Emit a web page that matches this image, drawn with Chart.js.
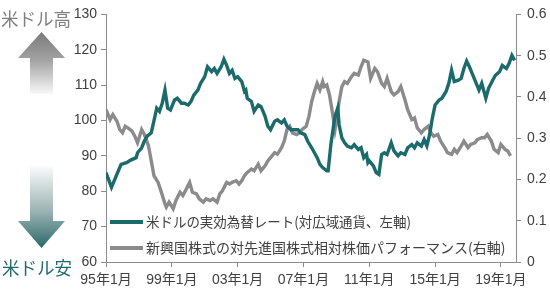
<!DOCTYPE html>
<html>
<head>
<meta charset="utf-8">
<script src="https://cdn.jsdelivr.net/npm/chart.js@4.4.1/dist/chart.umd.min.js"></script>
<style>
html,body{margin:0;padding:0;background:#fff;}
#wrap{position:relative;width:550px;height:295px;}
</style>
</head>
<body>
<div id="wrap"><canvas id="c"></canvas></div>
<script>
// ---- data ----
const xTickLabels = ['95年1月','99年1月','03年1月','07年1月','11年1月','15年1月','19年1月'];
const seriesLabels = ['米ドルの実効為替レート(対広域通貨、左軸)','新興国株式の対先進国株式相対株価パフォーマンス(右軸)'];
const leftTicks = [60, 130, 10];
const rightTicks = [0, 0.6, 0.1];

const usdDates = ['1995-01','1995-05','1995-08','1995-12','1996-04','1996-07','1996-11','1996-12','1997-03','1997-05','1997-07','1997-10','1997-12',
'1998-02','1998-04','1998-06','1998-08','1998-10','1998-12','1999-03','1999-05','1999-08','1999-10','2000-01','2000-03','2000-05','2000-08','2000-10',
'2001-01','2001-03','2001-06','2001-08','2001-10','2002-01','2002-03','2002-05','2002-07','2002-09','2002-11','2003-01','2003-04','2003-06','2003-07',
'2003-08','2003-11','2004-01','2004-04','2004-06','2004-09','2004-11','2005-01','2005-04','2005-06','2005-09','2005-11','2006-01','2006-04','2006-06',
'2006-09','2006-11','2007-02','2007-04','2007-07','2007-09','2007-11','2008-01','2008-03','2008-06','2008-07','2008-09','2008-12','2009-02','2009-03',
'2009-05','2009-07','2009-09','2009-12','2010-02','2010-05','2010-07','2010-09','2010-11','2010-12','2011-01','2011-04','2011-06','2011-08','2011-10',
'2011-12','2012-02','2012-05','2012-07','2012-10','2012-12','2013-03','2013-05','2013-08','2013-10','2013-12','2014-03','2014-05','2014-07','2014-09',
'2014-11','2015-01','2015-04','2015-06','2015-09','2015-11','2016-01','2016-03','2016-06','2016-08','2016-10','2016-12','2017-02','2017-04','2017-07',
'2017-09','2017-11','2018-02','2018-04','2018-07','2018-09','2018-12','2019-02','2019-05','2019-07','2019-09','2019-11'];
const usdValues = [85.3,81.1,83.9,87.6,88.1,88.8,89.5,90.9,92.3,94.2,95.6,96.5,100.0,
103.5,102.6,104.9,108.6,103.5,103.0,105.8,106.3,104.9,104.9,104.4,105.4,107.2,108.6,110.5,
112.4,115.2,113.8,114.7,113.3,115.2,117.3,115.6,113.3,114.2,111.9,112.4,111.0,108.2,108.6,
106.3,105.4,102.6,104.4,104.0,101.2,98.4,97.4,99.8,100.2,99.3,100.2,98.4,97.4,97.4,
97.4,96.5,96.0,94.2,92.3,90.9,89.5,87.6,86.7,85.8,85.8,93.3,101.2,103.5,98.8,
95.1,93.7,92.8,92.3,93.2,91.8,92.3,89.5,90.4,88.1,88.6,87.2,85.3,84.8,90.4,
90.9,90.4,93.7,91.4,90.0,90.9,90.4,92.3,93.2,92.3,93.7,92.8,94.6,92.8,96.0,
100.7,104.4,105.8,106.3,108.2,110.5,114.2,111.0,111.4,111.9,114.7,116.8,115.2,113.3,110.5,
108.6,110.5,106.3,109.1,111.4,112.8,113.8,115.6,114.7,116.2,118.4,117.0];

const emDates = ['1995-01','1995-04','1995-06','1995-09','1995-11','1996-01','1996-03','1996-05','1996-08','1996-10','1996-12','1997-03','1997-05',
'1997-08','1997-10','1997-12','1998-03','1998-05','1998-08','1998-09','1998-11','1999-02','1999-04','1999-07','1999-09','1999-11','2000-02','2000-04',
'2000-07','2000-09','2000-12','2001-02','2001-05','2001-07','2001-10','2001-12','2002-02','2002-05','2002-07','2002-09','2002-12','2003-02','2003-04',
'2003-06','2003-08','2003-11','2004-01','2004-04','2004-06','2004-09','2004-11','2005-01','2005-04','2005-06','2005-09','2005-11','2006-01','2006-03',
'2006-05','2006-08','2006-10','2006-12','2007-03','2007-05','2007-07','2007-09','2007-11','2008-01','2008-03','2008-04','2008-06','2008-08','2008-10',
'2008-12','2009-01','2009-03','2009-05','2009-07','2009-09','2009-12','2010-02','2010-05','2010-07','2010-09','2010-12','2011-02','2011-05','2011-07',
'2011-10','2011-12','2012-02','2012-05','2012-07','2012-10','2012-12','2013-03','2013-05','2013-08','2013-10','2013-12','2014-03','2014-05','2014-08',
'2014-10','2014-12','2015-03','2015-05','2015-08','2015-10','2016-01','2016-03','2016-05','2016-08','2016-10','2017-01','2017-03','2017-06','2017-08',
'2017-11','2018-01','2018-03','2018-06','2018-08','2018-11','2019-01','2019-04','2019-06','2019-08'];
const emValues = [0.369,0.345,0.357,0.341,0.321,0.313,0.329,0.325,0.317,0.305,0.289,0.321,0.309,
0.281,0.245,0.209,0.193,0.173,0.141,0.133,0.145,0.129,0.149,0.169,0.161,0.173,0.193,0.169,
0.165,0.153,0.145,0.153,0.149,0.153,0.145,0.165,0.173,0.193,0.189,0.193,0.197,0.189,0.197,
0.209,0.217,0.225,0.221,0.237,0.221,0.233,0.245,0.253,0.265,0.261,0.277,0.293,0.321,0.329,
0.313,0.309,0.313,0.321,0.329,0.353,0.389,0.413,0.433,0.417,0.437,0.425,0.429,0.405,0.365,
0.321,0.341,0.389,0.425,0.437,0.433,0.449,0.457,0.453,0.473,0.489,0.485,0.445,0.469,0.461,
0.433,0.425,0.445,0.413,0.405,0.413,0.425,0.393,0.369,0.345,0.349,0.325,0.313,0.321,0.329,
0.313,0.305,0.309,0.293,0.277,0.265,0.261,0.273,0.265,0.281,0.293,0.277,0.285,0.289,0.297,
0.301,0.301,0.309,0.293,0.273,0.265,0.285,0.273,0.269,0.257];

// ---- helpers ----
const baseYear = 1995;
function monthIndex(s){ const p = s.split('-'); return (parseInt(p[0],10)-baseYear)*12 + (parseInt(p[1],10)-1); }
function labelMonth(lbl){ const yy = parseInt(lbl.slice(0,2),10); const y = yy >= 90 ? 1900+yy : 2000+yy; return (y-baseYear)*12; }
const tickMonths = xTickLabels.map(labelMonth);
const xMax = monthIndex('2019-12');

const TEAL = '#1b6a6c';
const GRAY = '#8b8b8b';
const AXIS = '#8c8c8c';
const TXT = '#404040';
const NUMFONT = '"Liberation Sans", Arial, "Noto Sans CJK JP", sans-serif';
const JPFONT = '"Noto Sans CJK JP", "Noto Sans", sans-serif';

const decor = {
  id: 'decor',
  afterDraw(chart){
    const ctx = chart.ctx;
    ctx.save();
    // up arrow
    let g = ctx.createLinearGradient(0, 32, 0, 94);
    g.addColorStop(0, '#7a7a7a'); g.addColorStop(0.45, '#a2a2a2'); g.addColorStop(1, '#f8f8f8');
    ctx.fillStyle = g;
    ctx.beginPath();
    ctx.moveTo(41.5, 32); ctx.lineTo(65, 58); ctx.lineTo(53, 58); ctx.lineTo(53, 94);
    ctx.lineTo(30, 94); ctx.lineTo(30, 58); ctx.lineTo(18, 58); ctx.closePath(); ctx.fill();
    // down arrow
    g = ctx.createLinearGradient(0, 166, 0, 248);
    g.addColorStop(0, '#fbfbfb'); g.addColorStop(0.55, '#9bb3b3'); g.addColorStop(1, '#2b6868');
    ctx.fillStyle = g;
    ctx.beginPath();
    ctx.moveTo(30, 166); ctx.lineTo(53, 166); ctx.lineTo(53, 221); ctx.lineTo(65, 221);
    ctx.lineTo(41.5, 248); ctx.lineTo(18, 221); ctx.lineTo(30, 221); ctx.closePath(); ctx.fill();
    // side texts
    ctx.textBaseline = 'middle'; ctx.textAlign = 'left';
    ctx.font = '18px ' + JPFONT;
    ctx.fillStyle = '#7f7f7f';
    ctx.fillText('米ドル高', 1, 19, 70);
    ctx.fillStyle = '#22696a';
    ctx.fillText('米ドル安', 2, 268, 70);
    // legend
    const items = [
      {y: 222, color: TEAL, w: 265},
      {y: 248, color: GRAY, w: 366}
    ];
    ctx.font = '14px ' + JPFONT;
    items.forEach((it, i) => {
      ctx.strokeStyle = it.color; ctx.lineWidth = 4; ctx.lineCap = 'butt';
      ctx.beginPath(); ctx.moveTo(110, it.y); ctx.lineTo(143, it.y); ctx.stroke();
      ctx.fillStyle = TXT;
      ctx.fillText(chart.data.datasets[i].label, 146, it.y, it.w);
    });
    ctx.restore();
  }
};

new Chart(document.getElementById('c'), {
  type: 'line',
  data: {
    datasets: [
      { label: seriesLabels[0], data: usdDates.map((d,i)=>({x: monthIndex(d), y: usdValues[i]})),
        borderColor: TEAL, borderWidth: 3.4, pointRadius: 0, tension: 0, yAxisID: 'yL', fill: false },
      { label: seriesLabels[1], data: emDates.map((d,i)=>({x: monthIndex(d), y: emValues[i]})),
        borderColor: GRAY, borderWidth: 3.4, pointRadius: 0, tension: 0, yAxisID: 'yR', fill: false }
    ]
  },
  options: {
    responsive: true, maintainAspectRatio: false, animation: false,
    layout: { padding: { top: 12, left: 0, right: 0, bottom: 0 } },
    plugins: { legend: { display: false }, tooltip: { enabled: false } },
    scales: {
      x: {
        type: 'linear', min: 0, max: xMax,
        afterBuildTicks: (s) => { s.ticks = tickMonths.map(v => ({value: v})); },
        afterFit: (s) => { s.height = 33; },
        ticks: { autoSkip: false, maxRotation: 0, padding: 5, color: TXT,
          font: { family: NUMFONT, size: 14 },
          callback: (v) => { const k = tickMonths.indexOf(v); return k >= 0 ? xTickLabels[k] : ''; } },
        grid: { drawOnChartArea: false, drawTicks: true, tickLength: 5, color: AXIS },
        border: { display: true, color: AXIS, width: 1 }
      },
      yL: {
        position: 'left', min: leftTicks[0], max: leftTicks[1],
        afterFit: (s) => { s.width = 106; },
        ticks: { stepSize: leftTicks[2], padding: 4, color: TXT, font: { family: NUMFONT, size: 14 } },
        grid: { drawOnChartArea: false, drawTicks: true, tickLength: 5, color: AXIS },
        border: { display: true, color: AXIS, width: 1 }
      },
      yR: {
        position: 'right', min: rightTicks[0], max: rightTicks[1],
        afterFit: (s) => { s.width = 34; },
        ticks: { stepSize: rightTicks[2], padding: 6, color: TXT, font: { family: NUMFONT, size: 14 } },
        grid: { drawOnChartArea: false, drawTicks: true, tickLength: 5, color: AXIS },
        border: { display: true, color: AXIS, width: 1 }
      }
    }
  },
  plugins: [decor]
});
</script>
</body>
</html>
